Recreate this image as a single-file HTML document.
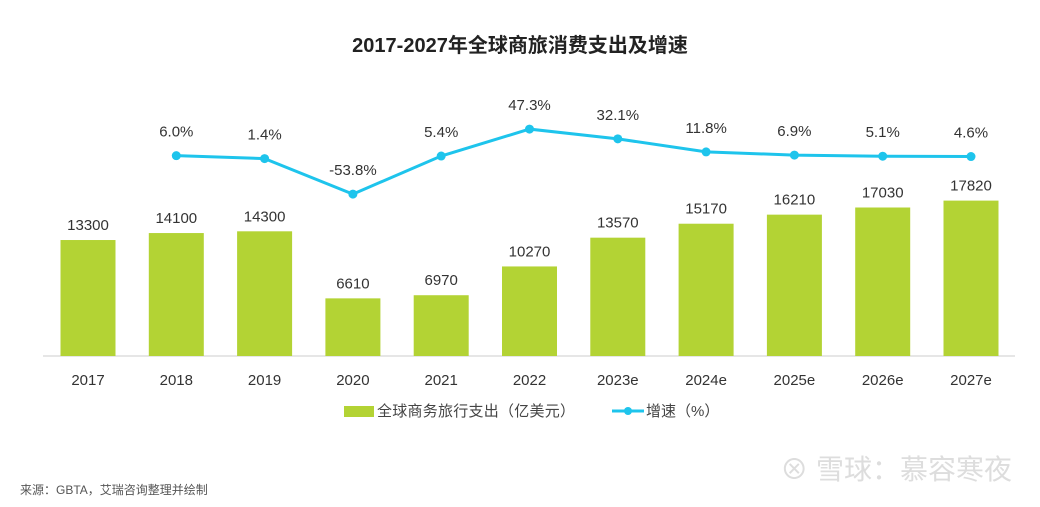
<!DOCTYPE html>
<html><head><meta charset="utf-8"><style>
body{margin:0;background:#fff;}
svg text{font-family:"Liberation Sans","Noto Sans CJK SC",sans-serif;}
</style></head><body>
<svg id="c" width="1040" height="502" xmlns="http://www.w3.org/2000/svg">
<text x="520" y="52" text-anchor="middle" font-size="20" font-weight="bold" fill="#222">2017-2027年全球商旅消费支出及增速</text>
<line x1="43" y1="356" x2="1015" y2="356" stroke="#ccc" stroke-width="1"/>
<g id="bars"></g><g id="line"></g>
<g>
<rect x="344" y="406" width="30" height="11" fill="#b3d334"/>
<text x="377" y="416" font-size="15" fill="#444" textLength="198">全球商务旅行支出（亿美元）</text>
<line x1="612" y1="411" x2="644" y2="411" stroke="#1ec4ec" stroke-width="3"/>
<circle cx="628" cy="411" r="4" fill="#1ec4ec"/>
<text x="646" y="416" font-size="15" fill="#444">增速（%）</text>
</g>
<text x="20" y="494" font-size="12" fill="#555">来源：GBTA，艾瑞咨询整理并绘制</text>
<text x="1012" y="479" text-anchor="end" font-size="28" fill="#ddd">⊗ 雪球：慕容寒夜</text>
</svg>
<script>
const categories=["2017","2018","2019","2020","2021","2022","2023e","2024e","2025e","2026e","2027e"];
const spend=[13300,14100,14300,6610,6970,10270,13570,15170,16210,17030,17820];
const growth=[null,6.0,1.4,-53.8,5.4,47.3,32.1,11.8,6.9,5.1,4.6];
const growthLabels=["","6.0%","1.4%","-53.8%","5.4%","47.3%","32.1%","11.8%","6.9%","5.1%","4.6%"];
const NS="http://www.w3.org/2000/svg";
const xC=i=>88+i*88.3;
const yB=v=>356-v*0.00872;
const yL=v=>159.5-v*0.643;
const bars=document.getElementById('bars'),line=document.getElementById('line');
function mk(t,a,p){const e=document.createElementNS(NS,t);for(const k in a)e.setAttribute(k,a[k]);p.appendChild(e);return e;}
categories.forEach((c,i)=>{
 const r=mk('rect',{x:xC(i)-27.5,y:yB(spend[i]),width:55,height:356-yB(spend[i]),fill:'#b3d334'},bars);
 
 
 const t=mk('text',{x:xC(i),y:yB(spend[i])-10,'text-anchor':'middle','font-size':15,fill:'#333'},bars);t.textContent=spend[i];
 
 
 const x=mk('text',{x:xC(i),y:385,'text-anchor':'middle','font-size':15,fill:'#333'},bars);x.textContent=c;
 
 
});
let pts=[];growth.forEach((g,i)=>{if(g!==null)pts.push([xC(i),yL(g),i]);});
const pl=mk('polyline',{points:pts.map(p=>p[0]+','+p[1]).join(' '),fill:'none',stroke:'#1ec4ec','stroke-width':3},line);


pts.forEach(p=>{
 const c=mk('circle',{cx:p[0],cy:p[1],r:4.5,fill:'#1ec4ec'},line);
 
 
 const t=mk('text',{x:p[0],y:p[1]-19,'text-anchor':'middle','font-size':15,fill:'#333'},line);t.textContent=growthLabels[p[2]];
 
 
});
</script>
</body></html>
